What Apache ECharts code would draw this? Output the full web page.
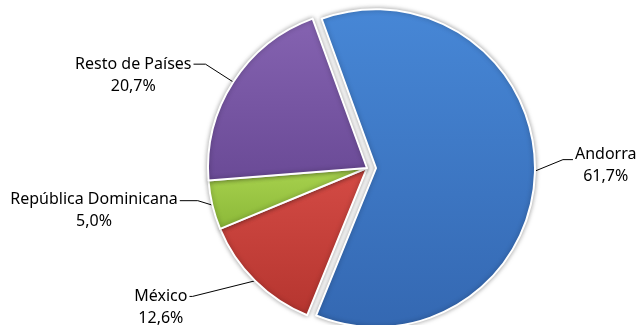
<!DOCTYPE html>
<html><head><meta charset="utf-8">
<script src="https://cdn.jsdelivr.net/npm/echarts@6/dist/echarts.min.js"></script>
<style>html,body{margin:0;padding:0;background:#fff}#c{width:636px;height:325px}</style>
</head><body><div id="c"></div>
<script>
const categories = ['Andorra', 'México', 'República Dominicana', 'Resto de Países'];
const values = [61.7, 12.6, 5.0, 20.7];
const colorsTop = ['#4787d6', '#d44b45', '#a8d24e', '#8563b1'];
const colorsBottom = ['#3468b2', '#b5352f', '#8bb838', '#6a4a96'];
const lineLen = [28, 22, 15, 33];
const lineLen2 = [10, 50, 18, 12];
const labelDy = [-17, 0, -9, 0];
const lineDy = [-12, 0, -8, 0];
const straightLine = [false, true, false, false];

const fmt = v => v.toFixed(1).replace('.', ',') + '%';
const chart = echarts.init(document.getElementById('c'), null, {renderer: 'canvas'});
const option = {
  animation: false,
  series: [{
    type: 'pie',
    center: [367, 168],
    radius: 159,
    startAngle: 110,
    clockwise: true,
    selectedMode: 'single',
    selectedOffset: 9,
    avoidLabelOverlap: false,
    itemStyle: {borderColor: '#fff', borderWidth: 2, shadowBlur: 5, shadowColor: 'rgba(0,0,0,0.35)'},
    label: {
      show: true, position: 'outside', color: '#000',
      fontFamily: 'Noto Sans', fontSize: 16, lineHeight: 22,
      padding: [22, 0, 0, 0],
      bleedMargin: 0,
      distanceToLabelLine: 2,
      formatter: p => '{n|' + p.name + '}\n{p|' + fmt(p.value) + '}',
      rich: {
        n: {align: 'center', fontFamily: 'Noto Sans', fontSize: 16, lineHeight: 22, color: '#000'},
        p: {align: 'center', fontFamily: 'Noto Sans', fontSize: 16, lineHeight: 22, color: '#000'}
      }
    },
    labelLayout: p => {
      const i = p.dataIndex;
      const out = {dy: labelDy[i]};
      const pts = p.labelLinePoints;
      if (pts && lineDy[i]) {
        out.labelLinePoints = pts.map((pt, k) => k === 0 ? [pt[0], pt[1]] : [pt[0], pt[1] + lineDy[i]]);
      } else if (pts && straightLine[i]) {
        out.labelLinePoints = [pts[0].slice(), [pts[2][0] + 3, pts[2][1]], pts[2].slice()];
      }
      return out;
    },
    labelLine: {show: true, smooth: false, lineStyle: {color: '#000', width: 1}},
    emphasis: {disabled: true},
    data: categories.map((c, i) => ({
      name: c, value: values[i], selected: i === 0,
      itemStyle: {color: new echarts.graphic.LinearGradient(0, 0, 0, 1, [
        {offset: 0, color: colorsTop[i]}, {offset: 1, color: colorsBottom[i]}])},
      labelLine: {length: lineLen[i], length2: lineLen2[i]}
    }))
  }]
};
chart.setOption(option);
</script></body></html>
